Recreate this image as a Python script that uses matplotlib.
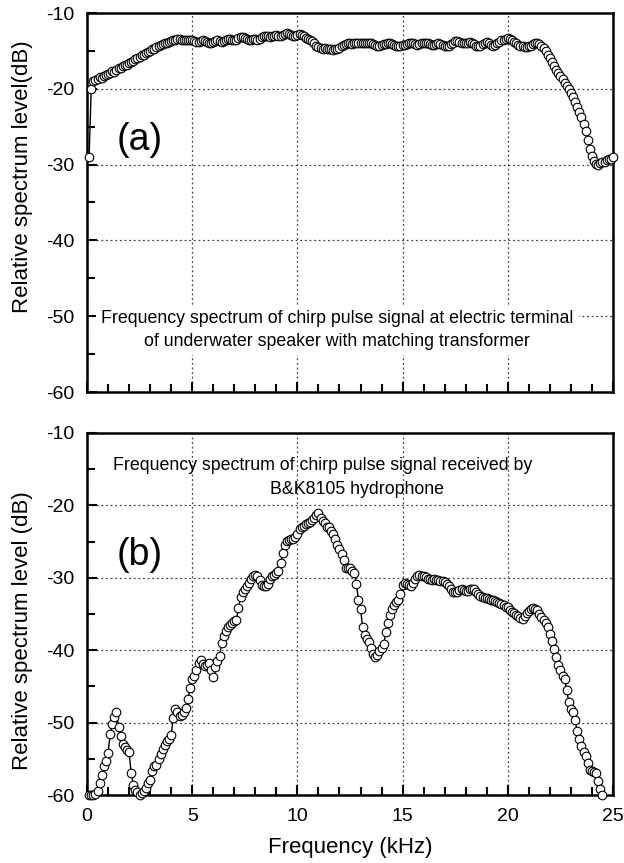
import numpy as np
import matplotlib
matplotlib.use("Agg")
import matplotlib.pyplot as plt
from matplotlib.ticker import MultipleLocator

plt.rcParams['font.family'] = ['Liberation Sans', 'DejaVu Sans']
plt.rcParams['axes.unicode_minus'] = False

# ---- data: relative spectrum level (dB), sampled every 0.1 kHz starting at 0.1 kHz ----
freq_step_khz = 0.1

level_a = [
    -29.0, -20.0, -19.0, -18.8, -18.7, -18.5, -18.6, -18.3, -18.2, -18.1,
    -17.9, -17.7, -17.8, -17.5, -17.3, -17.2, -17.0, -16.9, -16.8, -16.6,
    -16.4, -16.3, -16.1, -15.9, -15.8, -15.6, -15.5, -15.3, -15.1, -15.0,
    -14.8, -14.7, -14.5, -14.4, -14.2, -14.1, -14.0, -13.9, -13.8, -13.7,
    -13.6, -13.5, -13.4, -13.4, -13.5, -13.6, -13.6, -13.5, -13.5, -13.6,
    -13.7, -13.8, -13.8, -13.7, -13.6, -13.7, -13.8, -13.9, -13.9, -13.8,
    -13.7, -13.6, -13.7, -13.8, -13.7, -13.5, -13.4, -13.4, -13.5, -13.6,
    -13.5, -13.3, -13.2, -13.2, -13.3, -13.4, -13.5, -13.5, -13.4, -13.4,
    -13.5, -13.4, -13.2, -13.1, -13.0, -13.1, -13.2, -13.1, -13.0, -12.9,
    -13.0, -13.0, -12.9, -12.8, -12.7, -12.8, -12.9, -13.0, -13.0, -12.9,
    -12.8, -12.9, -13.1, -13.3, -13.4, -13.5, -13.7, -14.0, -14.3, -14.5,
    -14.6, -14.7, -14.6, -14.7, -14.8, -14.8, -14.9, -14.8, -14.7, -14.6,
    -14.4, -14.2, -14.1, -14.0, -14.0, -14.1, -14.0, -13.9, -13.9, -13.9,
    -14.0, -14.0, -13.9, -13.9, -14.0, -14.1, -14.2, -14.3, -14.3, -14.2,
    -14.1, -14.1, -14.0, -14.0, -14.1, -14.2, -14.3, -14.4, -14.3, -14.2,
    -14.2, -14.1, -14.0, -14.0, -14.0, -14.1, -14.2, -14.1, -14.0, -13.9,
    -13.9, -14.0, -14.1, -14.2, -14.2, -14.1, -14.0, -14.1, -14.2, -14.3,
    -14.4, -14.3, -14.1, -13.9, -13.7, -13.7, -13.8, -13.9, -14.0, -14.0,
    -13.9, -13.8, -13.9, -14.1, -14.3, -14.4, -14.3, -14.1, -13.9, -13.8,
    -14.0, -14.2, -14.3, -14.2, -14.0, -13.8, -13.6, -13.5, -13.4, -13.3,
    -13.4, -13.6, -13.8, -14.0, -14.2, -14.3, -14.4, -14.5, -14.5, -14.4,
    -14.3, -14.1, -14.0, -14.0, -14.1, -14.3, -14.6, -15.0, -15.5, -16.0,
    -16.5, -17.0, -17.5, -17.9, -18.3, -18.7, -19.2, -19.6, -20.0, -20.5,
    -21.1, -21.8, -22.4, -23.0, -23.7, -24.6, -25.6, -26.8, -27.9, -28.9,
    -29.5, -29.9, -30.0, -29.8, -29.6, -29.6, -29.4, -29.3, -29.2, -29.0,
]

level_b = [
    -60.0, -60.0, -60.0, -59.9, -59.4, -58.3, -57.2, -56.0, -55.3, -54.2,
    -51.6, -50.2, -49.2, -48.5, -50.6, -51.8, -52.9, -53.4, -53.8, -54.1,
    -57.0, -58.6, -59.3, -59.6, -60.0, -59.7, -59.4, -59.0, -58.4, -57.9,
    -56.7, -56.0, -55.8, -55.0, -54.3, -53.6, -53.1, -52.6, -52.2, -51.7,
    -49.3, -48.1, -48.5, -49.1, -49.0, -48.6, -48.0, -46.8, -45.2, -44.0,
    -43.5, -42.8, -41.8, -41.4, -41.9, -42.2, -42.0, -41.7, -42.7, -43.7,
    -42.3, -41.5, -40.8, -39.0, -38.0, -37.3, -36.8, -36.5, -36.2, -36.0,
    -35.8, -34.2, -32.6, -32.0, -31.6, -31.1, -30.7, -30.2, -29.8, -29.6,
    -29.7, -30.3, -31.0, -31.2, -31.1, -30.8, -30.2, -29.8, -29.6, -29.4,
    -29.0, -28.0, -26.6, -25.5, -24.9, -24.8, -24.7, -24.6, -24.3, -24.0,
    -23.3, -23.0, -22.8, -22.6, -22.5, -22.3, -22.0, -21.7, -21.3, -21.1,
    -21.7, -22.1, -22.5, -23.0, -23.0, -23.6, -24.0, -24.6, -25.5, -26.0,
    -26.7, -27.6, -28.6, -28.6, -28.7, -29.0, -29.4, -30.8, -33.0, -34.3,
    -36.8, -37.9, -38.4, -38.9, -39.7, -40.5, -40.9, -40.6, -40.1, -39.7,
    -39.2, -37.5, -36.3, -35.2, -34.3, -33.7, -33.3, -33.1, -32.3, -31.0,
    -30.7, -30.8, -31.0, -31.1, -30.7, -30.2, -29.8, -29.6, -29.7, -29.8,
    -29.9, -30.1, -30.2, -30.3, -30.2, -30.3, -30.3, -30.4, -30.5, -30.6,
    -30.9, -31.1, -31.5, -31.9, -32.0, -31.9, -31.7, -31.5, -31.7, -31.8,
    -31.8, -31.5, -31.5, -31.6, -31.9, -32.2, -32.5, -32.7, -32.8, -32.8,
    -32.9, -33.0, -33.1, -33.2, -33.3, -33.5, -33.6, -33.8, -34.0, -34.1,
    -34.4, -34.7, -34.9, -35.1, -35.3, -35.6, -35.7, -35.3, -34.9, -34.6,
    -34.3, -34.2, -34.3, -34.5, -35.0, -35.4, -35.8, -36.3, -36.8, -37.7,
    -38.7, -39.8, -40.9, -42.0, -42.8, -43.5, -44.0, -45.5, -47.2, -48.1,
    -48.6, -49.6, -51.2, -52.3, -53.2, -54.0, -54.6, -55.6, -56.5, -56.7,
    -56.8, -57.0, -58.0, -59.2, -60.0,
]

freq_a = np.round(np.arange(1, len(level_a) + 1) * freq_step_khz, 1)
freq_b = np.round(np.arange(1, len(level_b) + 1) * freq_step_khz, 1)

x_ticks = [0, 5, 10, 15, 20, 25]
y_ticks = [-60, -50, -40, -30, -20, -10]

panel_labels = ["(a)", "(b)"]
ylabels = ["Relative spectrum level(dB)", "Relative spectrum level (dB)"]
xlabel = "Frequency (kHz)"
note_a = ("Frequency spectrum of chirp pulse signal at electric terminal\n"
          "of underwater speaker with matching transformer")
note_b_line1 = "Frequency spectrum of chirp pulse signal received by"
note_b_line2 = "B&K8105 hydrophone"

# ---- figure ----
W, H = 624, 863
fig = plt.figure(figsize=(W / 100, H / 100), dpi=100)

def ax_rect(left, right, top, bottom):
    return [left / W, 1 - bottom / H, (right - left) / W, (bottom - top) / H]

ax_a = fig.add_axes(ax_rect(87, 613, 13, 392))
ax_b = fig.add_axes(ax_rect(87, 613, 433, 795))

def style(ax, show_xlabels):
    ax.set_xlim(0, 25)
    ax.set_ylim(-60, -10)
    ax.set_xticks(x_ticks)
    ax.set_yticks(y_ticks)
    ax.xaxis.set_minor_locator(MultipleLocator(1))
    ax.yaxis.set_minor_locator(MultipleLocator(5))
    ax.grid(True, which='major', color='#444444', linestyle=(0, (1.5, 2.2)), linewidth=0.9)
    ax.tick_params(which='both', direction='in', top=False, right=False)
    ax.tick_params(which='major', length=7, width=1.5, labelsize=14)
    ax.tick_params(which='minor', length=6, width=1.5)
    ax.tick_params(axis='y', which='major', pad=9)
    ax.tick_params(axis='x', which='major', pad=9)
    if not show_xlabels:
        ax.tick_params(axis='x', labelbottom=False)
    for s in ax.spines.values():
        s.set_linewidth(1.8)
        s.set_color('black')
    ax.set_axisbelow(True)

style(ax_a, False)
style(ax_b, True)

mk = dict(color='black', linewidth=1.0, marker='o', markersize=6.2,
          markerfacecolor='white', markeredgecolor='black', markeredgewidth=0.8,
          clip_on=False, zorder=3)
ax_a.plot(freq_a, level_a, **mk)
ax_b.plot(freq_b, level_b, **mk)

# labels
for ax, lab, yc in [(ax_a, ylabels[0], 0.569), (ax_b, ylabels[1], 0.454)]:
    ax.set_ylabel(lab, fontsize=16)
    ax.yaxis.set_label_coords(-0.102, yc)
ax_b.set_xlabel(xlabel, fontsize=16, labelpad=9)

ax_a.text(2.5, -26.8, panel_labels[0], fontsize=27, ha='center', va='center', zorder=4)
ax_b.text(2.5, -26.9, panel_labels[1], fontsize=27, ha='center', va='center', zorder=4)

ax_a.text(11.9, -51.8, note_a, fontsize=12.8, ha='center', va='center',
          linespacing=1.45, zorder=2,
          bbox=dict(boxstyle='square,pad=0.3', facecolor='white', edgecolor='none'))
ax_b.text(11.2, -14.55, note_b_line1, fontsize=12.8, ha='center', va='center', zorder=2)
ax_b.text(12.83, -17.8, note_b_line2, fontsize=12.8, ha='center', va='center', zorder=2)

fig.savefig("out.png", dpi=100)
